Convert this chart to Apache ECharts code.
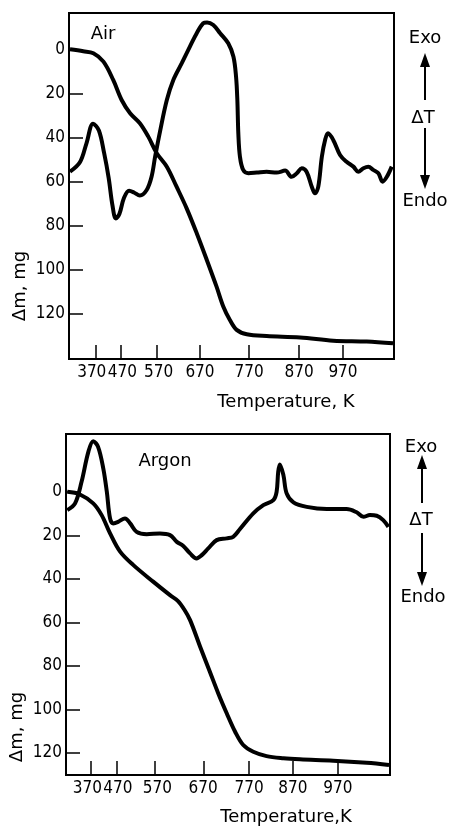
<!DOCTYPE html>
<html>
<head>
<meta charset="utf-8">
<script src="https://cdn.jsdelivr.net/npm/echarts@6/dist/echarts.min.js"></script>
<style>
  html, body { margin: 0; padding: 0; background: #fff; }
  #chart { width: 450px; height: 827px; }
</style>
</head>
<body>
<div id="chart"></div>
<script>
// x positions are given as % of the axis length, because the original
// temperature ticks are not evenly spaced
var tempLabels = ['370', '470', '570', '670', '770', '870', '970'];
var airTickPos = [8.2, 15.9, 27.0, 40.3, 55.4, 70.8, 84.3];
var airLabelPos = [7.0, 16.4, 27.6, 40.3, 55.4, 70.8, 84.3];
var argonTickPos = [7.7, 15.6, 27.5, 42.4, 56.5, 70.0, 83.9];
var argonLabelPos = [6.6, 16.0, 28.2, 42.3, 56.5, 70.0, 83.9];
var massTicks = [0, 20, 40, 60, 80, 100, 120];

// Air: mass loss (TG)
var airTgPos  = [0.3, 4.4, 7.5, 10.6, 13.6, 16.2, 18.8, 21.8, 24.4, 27.0, 30.1, 33.1, 36.2, 39.3, 42.4, 45.4, 47.5, 49.5, 51.6, 54.7, 60.8, 71.1, 81.3, 91.6, 99.7];
var airTgMass = [0, 0.9, 1.8, 5.6, 13.9, 23.0, 29.0, 33.5, 39.6, 47.1, 53.2, 62.3, 72.1, 83.4, 95.5, 107.6, 116.7, 122.7, 127.2, 129.2, 130.0, 130.6, 132.1, 132.5, 133.3];

// Air: DTA signal (arbitrary units, drawn on the mass scale)
var airDtaPos = [0.3, 3.4, 5.4, 7.4, 9.2, 10.8, 12.2, 13.4, 14.4, 15.5, 16.9, 18.5, 20.0, 21.8, 23.9, 25.4, 26.5, 28.0, 30.1, 32.1, 34.7, 37.2, 39.3, 41.3, 42.5, 44.4, 46.5, 49.0, 50.6, 51.4, 51.8, 52.1, 52.6, 53.6, 55.2, 57.8, 60.8, 63.9, 66.5, 68.5, 70.1, 71.6, 73.1, 74.7, 75.7, 76.7, 77.8, 78.8, 79.7, 81.3, 83.4, 85.4, 87.5, 89.0, 90.6, 92.1, 93.6, 95.2, 96.5, 97.8, 99.3];
var airDtaSig = [55.5, 51.1, 42.5, 33.7, 36.8, 47.0, 58.3, 71.0, 76.7, 74.7, 67.4, 64.1, 64.9, 66.3, 63.8, 57.8, 48.7, 37.3, 23.0, 13.9, 6.3, -1.2, -7.3, -11.8, -12.2, -11.0, -7.3, -2.7, 3.4, 12.4, 23.0, 38.1, 48.7, 54.7, 56.2, 55.9, 55.5, 55.9, 55.0, 57.8, 56.2, 53.9, 55.5, 62.3, 65.3, 62.3, 48.7, 41.1, 38.1, 41.1, 47.9, 51.0, 53.2, 55.5, 53.9, 53.2, 54.7, 56.2, 60.0, 57.8, 53.2];

// Argon: mass loss (TG)
var argonTgPos  = [0.4, 4.3, 8.4, 11.0, 13.6, 16.7, 20.8, 26.9, 32.1, 34.5, 36.5, 38.3, 41.4, 44.4, 47.0, 49.6, 52.2, 54.7, 57.8, 61.9, 67.1, 72.2, 82.5, 92.8, 99.7];
var argonTgMass = [-0.1, 1.1, 5.2, 10.6, 19.0, 27.4, 33.6, 41.2, 47.4, 50.0, 54.0, 58.9, 71.1, 82.6, 92.6, 101.7, 110.2, 116.3, 119.4, 121.4, 122.4, 122.9, 123.5, 124.5, 125.5];

// Argon: DTA signal
var argonDtaPos = [0.4, 2.8, 4.8, 6.9, 8.4, 9.9, 11.5, 12.6, 13.6, 14.6, 16.1, 18.2, 19.8, 21.8, 24.9, 29.0, 32.1, 34.2, 36.2, 38.3, 40.3, 41.9, 43.9, 46.5, 49.6, 51.6, 53.7, 57.8, 60.9, 64.0, 65.0, 65.5, 66.0, 67.1, 68.1, 70.2, 74.3, 80.5, 86.6, 89.7, 91.8, 93.8, 95.9, 97.9, 99.5];
var argonDtaSig = [8.3, 5.2, -4.7, -18.5, -23.4, -20.8, -10.9, -0.1, 12.1, 14.4, 13.7, 12.1, 14.4, 18.3, 19.4, 19.0, 19.8, 22.9, 24.8, 28.2, 30.5, 29.0, 25.9, 22.1, 21.3, 20.6, 17.0, 9.8, 6.0, 3.7, -0.1, -9.3, -12.7, -7.8, 0.6, 4.7, 6.8, 7.8, 7.8, 9.3, 11.4, 10.6, 10.9, 12.9, 16.0];

var FONT = 'DejaVu Sans';
var TICK_FONT = '"DejaVu Sans Condensed", "DejaVu Sans"';

function zip(xs, ys) {
    return xs.map(function (x, i) { return [x, ys[i]]; });
}

function xAxisFor(gridIndex, tickPos, labelPos) {
    return {
        type: 'value',
        gridIndex: gridIndex,
        min: 0,
        max: 100,
        axisLine: { show: true, onZero: false, lineStyle: { color: '#000', width: 2 } },
        axisTick: { show: true, inside: true, length: 14, customValues: tickPos, lineStyle: { color: '#000', width: 1.5 } },
        axisLabel: {
            customValues: labelPos,
            margin: 5,
            color: '#000',
            fontFamily: TICK_FONT,
            fontSize: 17,
            showMinLabel: true,
            formatter: function (v) {
                for (var k = 0; k < labelPos.length; k++) {
                    if (Math.abs(labelPos[k] - v) < 0.01) return tempLabels[k];
                }
                return '';
            }
        },
        splitLine: { show: false }
    };
}

function yAxisFor(gridIndex, min, max, visible) {
    return {
        type: 'value',
        gridIndex: gridIndex,
        inverse: true,
        min: min,
        max: max,
        show: visible,
        axisLine: { show: true, onZero: false, lineStyle: { color: '#000', width: 2 } },
        axisTick: { show: true, inside: true, length: 14, customValues: massTicks, lineStyle: { color: '#000', width: 1.5 } },
        axisLabel: { customValues: massTicks, margin: 4, color: '#000', fontFamily: TICK_FONT, fontSize: 17 },
        splitLine: { show: false }
    };
}

function lineSeries(name, xi, yi, data) {
    return {
        name: name,
        type: 'line',
        xAxisIndex: xi,
        yAxisIndex: yi,
        data: data,
        smooth: 0.35,
        showSymbol: false,
        lineStyle: { color: '#000', width: 4 },
        itemStyle: { color: '#000' }
    };
}

function txt(x, y, s, rot) {
    return {
        type: 'text', x: x, y: y, rotation: rot || 0,
        style: { text: s, fill: '#000', font: '18px ' + FONT, textAlign: 'center', textVerticalAlign: 'middle' }
    };
}

function seg(x, y1, y2) {
    return { type: 'line', shape: { x1: x, y1: y1, x2: x, y2: y2 }, style: { stroke: '#000', lineWidth: 2 } };
}

function head(x, tip, base) {
    return { type: 'polygon', shape: { points: [[x, tip], [x - 5, base], [x + 5, base]] }, style: { fill: '#000' } };
}

var option = {
    animation: false,
    backgroundColor: '#fff',
    grid: [
        { left: 69, top: 13, width: 325, height: 346, show: true, borderColor: '#000', borderWidth: 2 },
        { left: 66, top: 434, width: 324, height: 341, show: true, borderColor: '#000', borderWidth: 2 }
    ],
    xAxis: [xAxisFor(0, airTickPos, airLabelPos), xAxisFor(1, argonTickPos, argonLabelPos)],
    yAxis: [
        yAxisFor(0, -16.45, 140.4, true),
        yAxisFor(0, -16.45, 140.4, false),
        yAxisFor(1, -26.7, 130.1, true),
        yAxisFor(1, -26.7, 130.1, false)
    ],
    series: [
        lineSeries('Air TG', 0, 0, zip(airTgPos, airTgMass)),
        lineSeries('Air DTA', 0, 1, zip(airDtaPos, airDtaSig)),
        lineSeries('Argon TG', 1, 2, zip(argonTgPos, argonTgMass)),
        lineSeries('Argon DTA', 1, 3, zip(argonDtaPos, argonDtaSig))
    ],
    graphic: [
        txt(103, 34, 'Air'),
        txt(165, 461, 'Argon'),
        txt(20, 286, 'Δm, mg', Math.PI / 2),
        txt(17, 727, 'Δm, mg', Math.PI / 2),
        txt(286, 402, 'Temperature, K'),
        txt(286, 817, 'Temperature,K'),
        // top panel Exo / Endo marker
        txt(425, 38, 'Exo'),
        head(425, 53, 67), seg(425, 66, 100),
        txt(423, 118, 'ΔT'),
        seg(425, 128, 175), head(425, 189, 175),
        txt(425, 201, 'Endo'),
        // bottom panel Exo / Endo marker
        txt(421, 447, 'Exo'),
        head(422, 455, 469), seg(422, 468, 503),
        txt(421, 520, 'ΔT'),
        seg(422, 533, 572), head(422, 586, 572),
        txt(423, 597, 'Endo')
    ]
};

var chart = echarts.init(document.getElementById('chart'), null, { renderer: 'canvas' });
chart.setOption(option);
</script>
</body>
</html>
